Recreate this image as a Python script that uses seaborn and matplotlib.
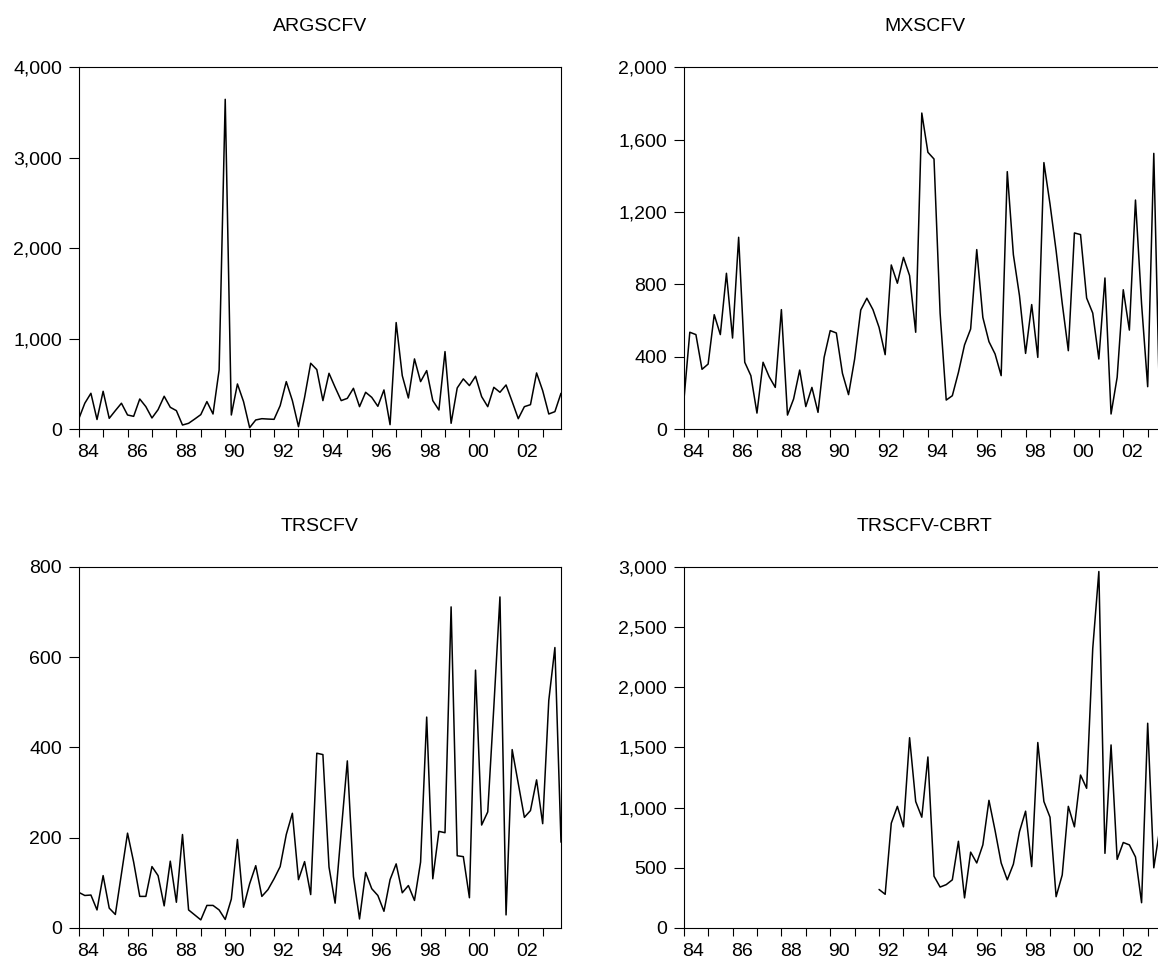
import numpy as np
import pandas as pd
import matplotlib
matplotlib.use("Agg")
import matplotlib.pyplot as plt
from matplotlib.ticker import FixedLocator, NullFormatter, FixedFormatter, StrMethodFormatter
import seaborn as sns

# ---------------- data (quarterly, 1984Q1 .. 2003Q4) ----------------
start_year = 1984
n_quarters = 80

argscfv = [110, 285, 395, 105, 417, 118, 203, 285, 155, 140, 332, 247, 122, 214, 362, 240,
           203, 44, 63, 110, 159, 303, 166, 653, 3646, 155, 498, 303, 15, 100, 114, 110,
           107, 258, 524, 314, 26, 350, 727, 657, 314, 616, 461, 314, 339, 450, 247, 406,
           350, 251, 432, 48, 1177, 590, 343, 775, 524, 646, 314, 210, 856, 63, 454, 554,
           480, 583, 358, 247, 461, 406, 487, 303, 114, 247, 269, 620, 424, 166, 192, 395]

mxscfv = [147, 535, 522, 330, 359, 632, 522, 861, 503, 1060, 369, 295, 88, 369, 289, 230,
          660, 77, 166, 326, 124, 230, 92, 396, 544, 531, 308, 190, 387, 658, 723, 660,
          562, 411, 907, 806, 949, 848, 535, 1747, 1530, 1493, 640, 160, 184, 313, 465, 553,
          992, 617, 483, 415, 295, 1423, 964, 737, 418, 688, 396, 1473, 1244, 986, 695, 433,
          1084, 1075, 724, 641, 387, 835, 83, 286, 770, 547, 1266, 691, 234, 1524, 60, 400]

trscfv = [79, 72, 73, 40, 116, 44, 30, 120, 210, 146, 70, 70, 136, 116, 49, 148,
          57, 207, 40, 29, 18, 50, 50, 40, 19, 64, 196, 46, 98, 138, 70, 85,
          109, 136, 207, 254, 107, 147, 74, 387, 384, 135, 55, 214, 370, 114, 20, 123,
          87, 72, 37, 107, 142, 78, 94, 61, 146, 467, 109, 214, 211, 711, 160, 158,
          67, 571, 228, 257, 490, 733, 29, 395, 320, 245, 260, 328, 231, 504, 621, 190]

# TRSCFV-CBRT starts in 1992Q1 (observation 33)
cbrt_first_obs = 32
trscfv_cbrt_obs = [320, 280, 870, 1010, 840, 1580, 1050, 920, 1420, 430, 340, 360, 400, 720,
                   250, 630, 540, 690, 1060, 810, 540, 400, 530, 800, 970, 510, 1540, 1050,
                   920, 260, 440, 1010, 840, 1270, 1160, 2320, 2960, 620, 1520, 570, 710, 690,
                   590, 210, 1700, 500, 830, 800]

titles = ["ARGSCFV", "MXSCFV", "TRSCFV", "TRSCFV-CBRT"]
y_ticks = [[0, 1000, 2000, 3000, 4000],
           [0, 400, 800, 1200, 1600, 2000],
           [0, 200, 400, 600, 800],
           [0, 500, 1000, 1500, 2000, 2500, 3000]]
year_labels = ["84", "86", "88", "90", "92", "94", "96", "98", "00", "02"]

# ---------------- build table ----------------
t = start_year + np.arange(n_quarters) / 4.0
cbrt = [np.nan] * cbrt_first_obs + trscfv_cbrt_obs
cbrt = cbrt[:n_quarters]
df = pd.DataFrame({"t": t, "ARGSCFV": argscfv, "MXSCFV": mxscfv,
                   "TRSCFV": trscfv, "TRSCFV-CBRT": cbrt})

# ---------------- style ----------------
sns.set_style("ticks")
plt.rcParams["font.family"] = ["Liberation Sans", "DejaVu Sans"]
plt.rcParams["axes.linewidth"] = 0.8
plt.rcParams["text.color"] = "black"
plt.rcParams["axes.labelcolor"] = "black"
plt.rcParams["xtick.color"] = "black"
plt.rcParams["ytick.color"] = "black"
plt.rcParams["axes.titlecolor"] = "black"

W, H = 1158, 959
fig = plt.figure(figsize=(W / 100, H / 100), dpi=100)
fig.patch.set_facecolor("white")

# axes boxes in pixels: (left, top, width, height)
boxes = [(78.7, 67.3, 482.3, 361.7),
         (683.7, 67.3, 482.3, 361.7),
         (78.7, 566.7, 482.3, 361.3),
         (683.7, 566.7, 482.3, 361.3)]

FS = 14
for name, box, yt in zip(titles, boxes, y_ticks):
    l, tp, w, h = box
    ax = fig.add_axes([l / W, (H - tp - h) / H, w / W, h / H])
    d = df[["t", name]].dropna()
    sns.lineplot(data=d, x="t", y=name, ax=ax, color="black", linewidth=1.1,
                 estimator=None, sort=False)
    ax.set_xlim(start_year, start_year + (n_quarters - 1) / 4.0)
    ax.set_ylim(yt[0], yt[-1])
    ax.set_xlabel("")
    ax.set_ylabel("")
    ax.set_title(name, fontsize=FS, pad=26, color="black")
    for s in ax.spines.values():
        s.set_color("black")
        s.set_linewidth(0.8)
        s.set_visible(True)
    # y axis
    ax.yaxis.set_major_locator(FixedLocator(yt))
    ax.yaxis.set_major_formatter(StrMethodFormatter("{x:,.0f}"))
    ax.tick_params(axis="y", which="major", direction="out", length=7, width=0.8,
                   color="black", labelcolor="black", labelsize=FS, pad=5,
                   left=True, right=False)
    # x axis: ticks at every year start, labels centred on even years
    years = np.arange(start_year, start_year + n_quarters // 4)
    ax.xaxis.set_major_locator(FixedLocator(years))
    ax.xaxis.set_major_formatter(NullFormatter())
    lab_pos = [start_year + 2 * k + 0.375 for k in range(len(year_labels))]
    ax.xaxis.set_minor_locator(FixedLocator(lab_pos))
    ax.xaxis.set_minor_formatter(FixedFormatter(year_labels))
    ax.tick_params(axis="x", which="major", direction="out", length=6, width=0.8,
                   color="black", bottom=True, top=False)
    ax.tick_params(axis="x", which="minor", length=0, labelsize=FS, pad=10.5,
                   labelcolor="black")
    ax.set_facecolor("white")
    ax.grid(False)

fig.savefig("out.png", dpi=100, facecolor="white")
